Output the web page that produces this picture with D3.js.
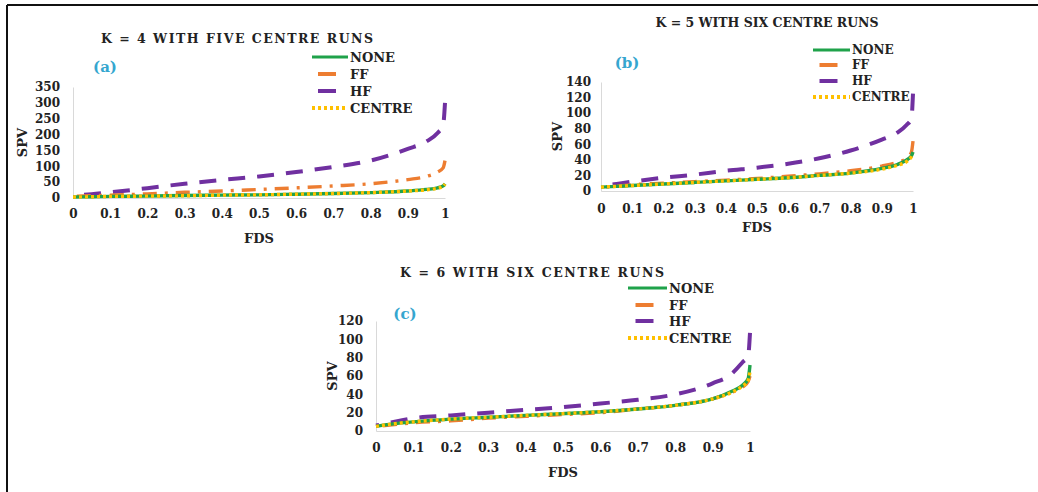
<!DOCTYPE html>
<html><head><meta charset="utf-8">
<script src="https://cdn.jsdelivr.net/npm/d3@7"></script>
<style>
html,body{margin:0;padding:0;background:#fff;}
svg{display:block;font-family:"DejaVu Serif",serif;}
</style></head>
<body>
<svg id="chart" width="1038" height="492"></svg>
<script>
// ---------------- DATA ----------------
const FDS = [0, 0.05, 0.1, 0.2, 0.3, 0.4, 0.5, 0.6, 0.7, 0.8, 0.9, 0.95, 0.98, 0.995, 1];
const seriesNames = ["NONE", "FF", "HF", "CENTRE"];
const xTicks = [0, 0.1, 0.2, 0.3, 0.4, 0.5, 0.6, 0.7, 0.8, 0.9, 1];

// Panel (a): K = 4 with five centre runs
const titleA = "K = 4 WITH FIVE CENTRE RUNS";
const yTicksA = [0, 50, 100, 150, 200, 250, 300, 350];
const noneA   = [3, 4, 5, 6, 8, 9, 10, 12, 14, 17, 22, 27, 32, 38, 45];
const ffA     = [5, 7, 9, 13, 18, 22, 27, 32, 38, 45, 58, 68, 82, 95, 118];
const hfA     = [8, 12, 18, 31, 45, 57, 68, 82, 98, 118, 155, 178, 205, 230, 300];
const centreA = [3, 4, 5, 6, 7, 9, 10, 12, 14, 17, 22, 26, 31, 37, 44];

// Panel (b): K = 5 with six centre runs
const titleB = "K = 5 WITH SIX CENTRE RUNS";
const yTicksB = [0, 20, 40, 60, 80, 100, 120, 140];
const noneB   = [5, 6, 7, 9, 11, 13, 15, 17, 20, 23, 29, 34, 40, 45, 50];
const ffB     = [5, 6, 8, 10, 12, 14, 16, 19, 22, 26, 32, 37, 42, 50, 64];
const hfB     = [6, 9, 12, 17, 21, 26, 30, 35, 42, 52, 66, 75, 85, 93, 125];
const centreB = [5, 6, 7, 9, 11, 13, 15, 17, 20, 23, 28, 33, 38, 44, 48];

// Panel (c): K = 6 with six centre runs
const titleC = "K = 6 WITH SIX CENTRE RUNS";
const yTicksC = [0, 20, 40, 60, 80, 100, 120];
const noneC   = [5, 8, 10, 13, 15, 17, 19, 21, 24, 28, 35, 43, 50, 57, 72];
const ffC     = [5, 7, 9, 11, 14, 16, 18, 20, 24, 28, 35, 42, 48, 54, 60];
const hfC     = [6, 10, 14, 17, 20, 23, 26, 30, 34, 40, 52, 62, 75, 82, 107];
const centreC = [5, 8, 10, 13, 15, 17, 19, 21, 24, 28, 35, 42, 49, 55, 65];

// ---------------- STYLE ----------------
const colors = {NONE:"#1fa24a", FF:"#ed7d31", HF:"#7030a0", CENTRE:"#ffc000"};
const dashes = {NONE:null, FF:"14,8,3,8", HF:"17,12", CENTRE:"3,3"};
const widths = {NONE:3.4, FF:3.4, HF:4, CENTRE:3.4};
const drawOrder = ["HF", "FF", "NONE", "CENTRE"];

const panels = [
  {title:titleA, label:"(a)", yTicks:yTicksA, ymax:350,
   data:{NONE:noneA, FF:ffA, HF:hfA, CENTRE:centreA},
   x0:73, x1:445, y0:198, y1:87, titleX:237, titleY:38, titleW:272,
   labelX:105, labelY:67, yPad:13, xPad:11, spvX:22, fdsY:238,
   leg:{x0:312, x1:348, tx:350, ys:[57,74,91,108], fs:13}},
  {title:titleB, label:"(b)", yTicks:yTicksB, ymax:140,
   data:{NONE:noneB, FF:ffB, HF:hfB, CENTRE:centreB},
   x0:601, x1:913, y0:191, y1:82, titleX:767, titleY:22, titleW:223,
   labelX:627, labelY:63, yPad:10, xPad:13, spvX:557, fdsY:227,
   leg:{x0:813, x1:850, tx:852, ys:[50,65,81,97], fs:12}},
  {title:titleC, label:"(c)", yTicks:yTicksC, ymax:120,
   data:{NONE:noneC, FF:ffC, HF:hfC, CENTRE:centreC},
   x0:376, x1:750, y0:431, y1:321, titleX:532, titleY:272, titleW:264,
   labelX:405, labelY:314, yPad:13, xPad:12, spvX:332, fdsY:472,
   leg:{x0:628, x1:667, tx:669, ys:[288,305,321,338], fs:13}}
];

const svg = d3.select("#chart");

// frame
svg.append("line").attr("x1",7).attr("x2",1038).attr("y1",5).attr("y2",5)
  .attr("stroke","#111").attr("stroke-width",2);
svg.append("line").attr("x1",7).attr("x2",7).attr("y1",5).attr("y2",492)
  .attr("stroke","#111").attr("stroke-width",2);

panels.forEach(p => {
  const g = svg.append("g");
  const x = d3.scaleLinear().domain([0,1]).range([p.x0, p.x1]);
  const y = d3.scaleLinear().domain([0,p.ymax]).range([p.y0, p.y1]);

  // title
  g.append("text").attr("x",p.titleX).attr("y",p.titleY)
    .attr("text-anchor","middle").attr("dominant-baseline","central")
    .attr("font-size",12.5).attr("font-weight","bold").attr("fill","#222")
    .attr("textLength",p.titleW).attr("lengthAdjust","spacing")
    .text(p.title);
  // panel label
  g.append("text").attr("x",p.labelX).attr("y",p.labelY)
    .attr("text-anchor","middle").attr("dominant-baseline","central")
    .attr("font-size",15).attr("font-weight","bold").attr("fill","#35a6cf")
    .text(p.label);

  // axes
  const ya = g.append("g").attr("transform",`translate(${p.x0},0)`)
    .call(d3.axisLeft(y).tickValues(p.yTicks).tickSize(0).tickPadding(p.yPad).tickFormat(d3.format("d")));
  const xa = g.append("g").attr("transform",`translate(0,${p.y0})`)
    .call(d3.axisBottom(x).tickValues(xTicks).tickSize(0).tickPadding(p.xPad).tickFormat(d => d === 0 ? "0" : d === 1 ? "1" : d3.format(".1f")(d)));
  [ya, xa].forEach(a => {
    a.select(".domain").attr("stroke","#d9d9d9").attr("stroke-width",1);
    a.selectAll("text").attr("font-family","DejaVu Serif, serif").attr("font-size",12)
      .attr("font-weight","bold").attr("fill","#222");
  });

  // axis titles
  g.append("text").attr("transform",`translate(${p.spvX},${(p.y0+p.y1)/2}) rotate(-90)`)
    .attr("text-anchor","middle").attr("dominant-baseline","central")
    .attr("font-size",13).attr("font-weight","bold").attr("fill","#222").text("SPV");
  g.append("text").attr("x",(p.x0+p.x1)/2).attr("y",p.fdsY)
    .attr("text-anchor","middle").attr("dominant-baseline","central")
    .attr("font-size",13).attr("font-weight","bold").attr("fill","#222").text("FDS");

  // lines
  const line = d3.line().x((d,i) => x(FDS[i])).y(d => y(d)).curve(d3.curveMonotoneX);
  drawOrder.forEach(s => {
    const path = g.append("path").datum(p.data[s]).attr("d",line)
      .attr("fill","none").attr("stroke",colors[s]).attr("stroke-width",widths[s])
      .attr("stroke-dasharray",dashes[s]).attr("stroke-linejoin","round");
    if (s === "HF" || s === "FF") {
      // align the pattern so a dash ends exactly at the last point
      const parts = dashes[s].split(",").map(Number);
      const period = d3.sum(parts), dashLen = parts[0];
      const L = path.node().getTotalLength();
      const off = ((dashLen - L) % period + period) % period;
      path.attr("stroke-dashoffset", off);
    }
  });

  // legend
  seriesNames.forEach((s,i) => {
    const ly = p.leg.ys[i];
    let a = p.leg.x0, b = p.leg.x1, dash = dashes[s];
    if (s === "FF" || s === "HF") { const m = (a+b)/2 - 3; a = m - 9; b = m + 9; dash = null; }
    g.append("line").attr("x1",a).attr("x2",b).attr("y1",ly).attr("y2",ly)
      .attr("stroke",colors[s]).attr("stroke-width",s==="NONE"?3.2:4)
      .attr("stroke-dasharray",dash);
    g.append("text").attr("x",p.leg.tx).attr("y",ly)
      .attr("dominant-baseline","central").attr("font-size",p.leg.fs)
      .attr("font-weight","bold").attr("fill","#222").text(s);
  });
});
</script>
</body></html>
